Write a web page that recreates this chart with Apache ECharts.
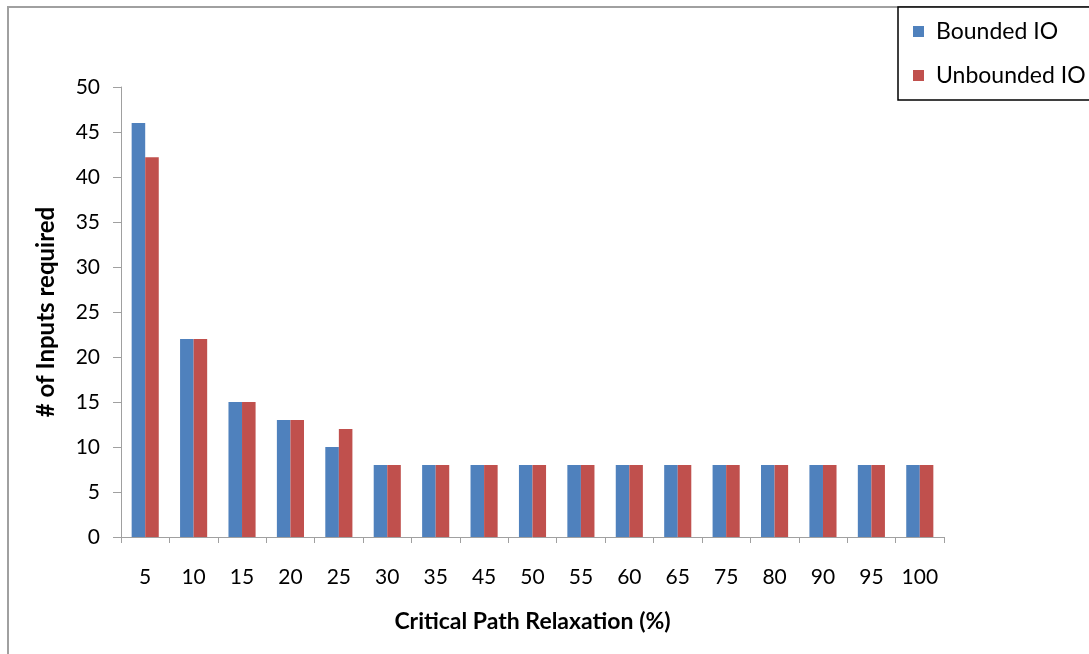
<!DOCTYPE html>
<html>
<head>
<meta charset="utf-8">
<script src="https://cdn.jsdelivr.net/npm/echarts@6/dist/echarts.min.js"></script>
<style>html,body{margin:0;padding:0;background:#fff}#c{width:1089px;height:654px}</style>
</head>
<body>
<div id="c"></div>
<script>
const categories = ['5','10','15','20','25','30','35','45','50','55','60','65','75','80','90','95','100'];
const boundedIO = [46,22,15,13,10,8,8,8,8,8,8,8,8,8,8,8,8];
const unboundedIO = [42.2,22,15,13,12,8,8,8,8,8,8,8,8,8,8,8,8];
const yTicks = {min:0, max:50, interval:5};

const font = 'Lato, sans-serif';
const chart = echarts.init(document.getElementById('c'));
chart.setOption({
  animation:false,
  backgroundColor:'#fff',
  graphic:[{type:'rect', z:0, shape:{x:8,y:7,width:1200,height:800}, style:{fill:'none', stroke:'#a0a0a0', lineWidth:2}}],
  grid:{left:121, right:145, top:87, bottom:117},
  legend:{
    orient:'vertical', left:898, top:7, z:10,
    backgroundColor:'#fff', borderColor:'#000', borderWidth:1.5,
    padding:[13,60,13,15], itemGap:21, itemWidth:11, itemHeight:11,
    icon:'rect',
    textStyle:{fontFamily:font, fontSize:23, color:'#000', padding:[0,0,0,7]},
    data:['Bounded IO','Unbounded IO']
  },
  xAxis:{
    type:'category', data:categories,
    name:'Critical Path Relaxation (%)', nameLocation:'middle', nameGap:73,
    nameTextStyle:{fontFamily:font, fontSize:23, fontWeight:'bold', color:'#000'},
    axisLine:{lineStyle:{color:'#a0a0a0', width:1}},
    axisTick:{show:true, length:6, lineStyle:{color:'#a0a0a0'}},
    axisLabel:{fontFamily:font, fontSize:21, color:'#000', margin:30}
  },
  yAxis:{
    type:'value', min:yTicks.min, max:yTicks.max, interval:yTicks.interval,
    name:'# of Inputs required', nameLocation:'middle', nameGap:63,
    nameTextStyle:{fontFamily:font, fontSize:24, fontWeight:'bold', color:'#000'},
    axisLine:{show:true, lineStyle:{color:'#a0a0a0', width:1}},
    axisTick:{show:true, length:8, lineStyle:{color:'#a0a0a0'}},
    splitLine:{show:false},
    axisLabel:{fontFamily:font, fontSize:21, color:'#000', margin:21}
  },
  series:[
    {name:'Bounded IO', type:'bar', data:boundedIO, itemStyle:{color:'#4f81bd'}, barGap:'0%', barCategoryGap:'44%'},
    {name:'Unbounded IO', type:'bar', data:unboundedIO, itemStyle:{color:'#c0504d'}, barGap:'0%', barCategoryGap:'44%'}
  ]
});
</script>
</body>
</html>
